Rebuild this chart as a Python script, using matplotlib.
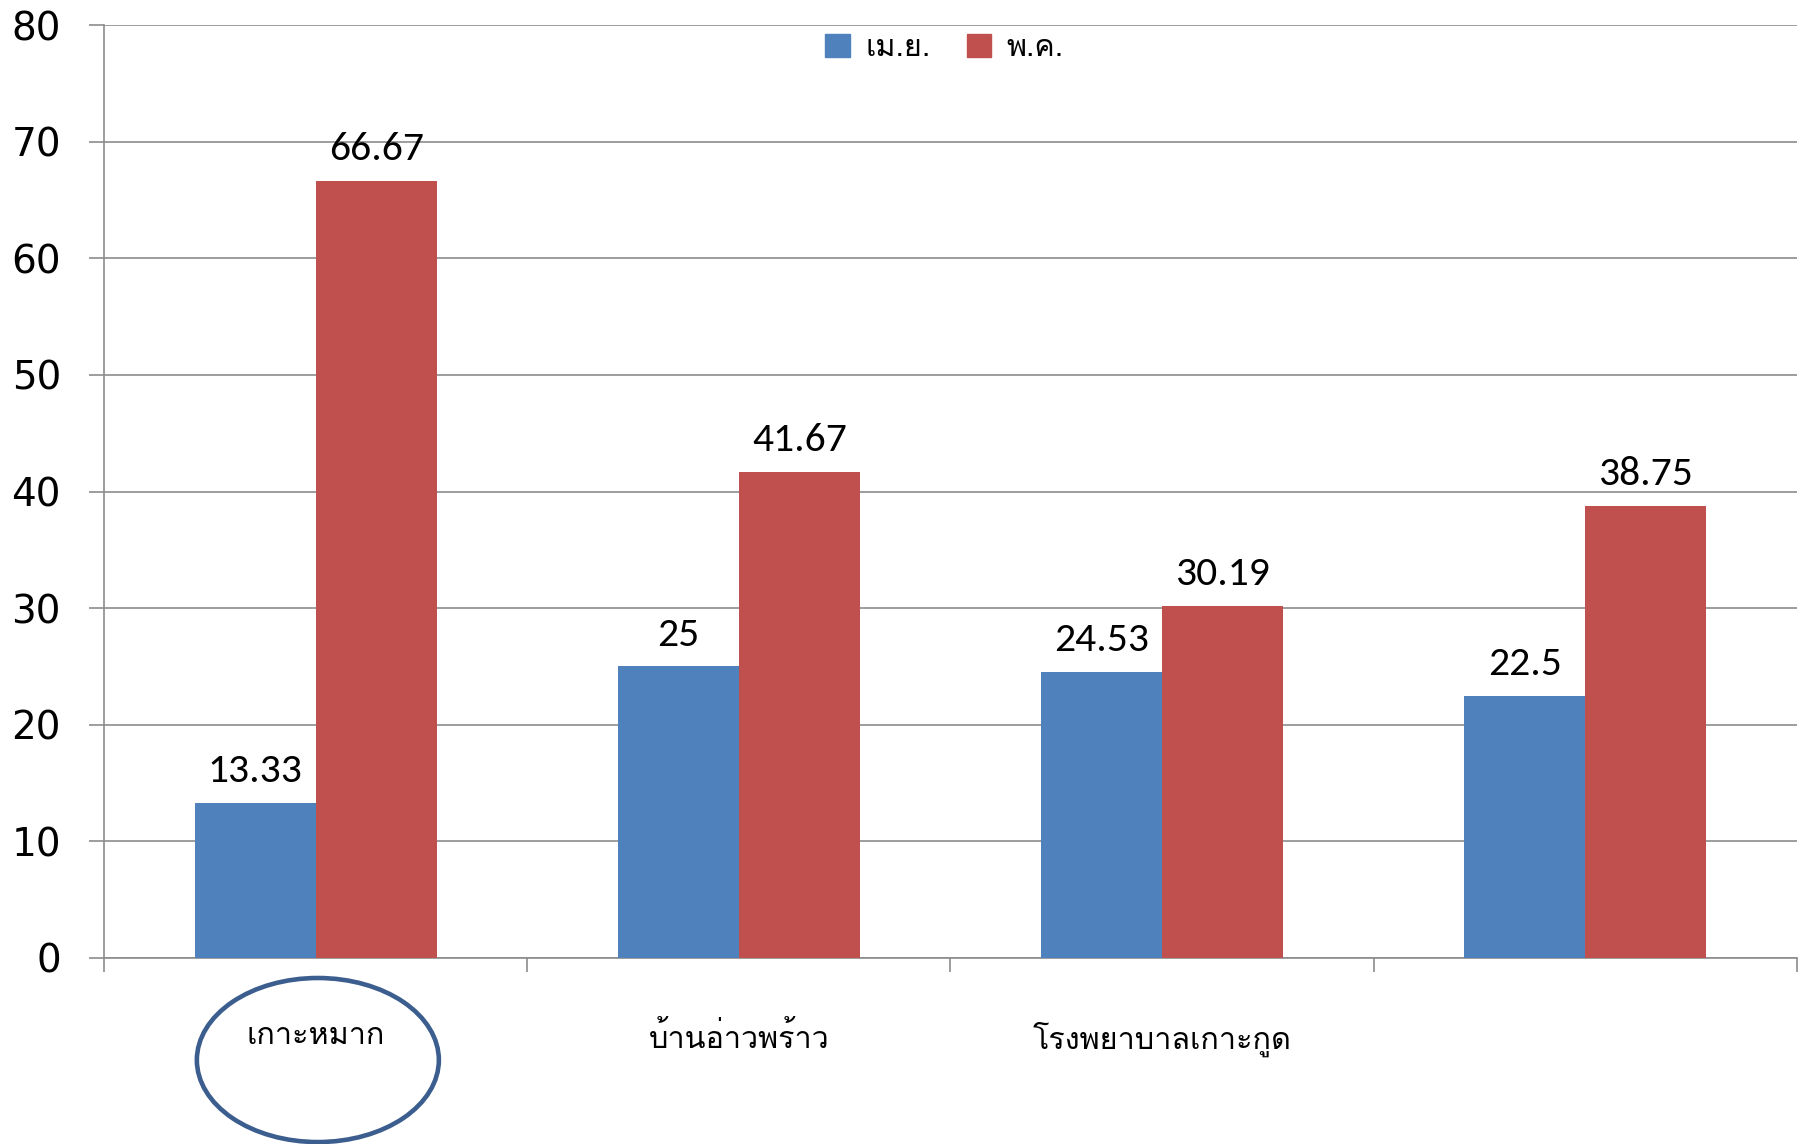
import matplotlib
matplotlib.use("Agg")
import matplotlib.pyplot as plt
from matplotlib.patches import Ellipse, Patch
import numpy as np

categories = ["เกาะหมาก", "บ้านอ่าวพร้าว", "โรงพยาบาลเกาะกูด", ""]
series_names = ["เม.ย.", "พ.ค."]
apr_values = [13.33, 25, 24.53, 22.5]
may_values = [66.67, 41.67, 30.19, 38.75]
apr_labels = ["13.33", "25", "24.53", "22.5"]
may_labels = ["66.67", "41.67", "30.19", "38.75"]
y_ticks = [0, 10, 20, 30, 40, 50, 60, 70, 80]

BLUE = "#4F81BD"
RED = "#C0504D"
GRID = "#8C8C8C"
THAI = ["Loma", "DejaVu Sans"]
NUM = ["Carlito", "DejaVu Sans"]

fig = plt.figure(figsize=(18.06, 11.44), dpi=100)
ax = fig.add_axes([0.0576, 0.1626, 0.9374, 0.8154])

x = np.arange(len(categories))
w = 0.286
b1 = ax.bar(x - w / 2, apr_values, w, color=BLUE, zorder=3)
b2 = ax.bar(x + w / 2, may_values, w, color=RED, zorder=3)

for bars, labels in ((b1, apr_labels), (b2, may_labels)):
    for rect, lab in zip(bars, labels):
        ax.annotate(lab, (rect.get_x() + rect.get_width() / 2, rect.get_height()),
                    xytext=(0, 10), textcoords="offset points", ha="center", va="bottom",
                    fontsize=30, family=NUM)

ax.set_xlim(-0.5, len(categories) - 0.5)
ax.set_ylim(0, 80)
ax.set_yticks(y_ticks)
ax.set_yticklabels([str(t) for t in y_ticks], fontsize=28, family="DejaVu Sans")
ax.tick_params(axis="y", direction="out", length=11, width=1.2, color=GRID, pad=20)

ax.set_xticks(np.arange(-0.5, len(categories)), minor=True)
ax.set_xticks(x)
ax.set_xticklabels(categories, fontsize=22, family=THAI)
ax.tick_params(axis="x", which="major", length=0, pad=46)
ax.tick_params(axis="x", which="minor", direction="out", length=10, width=1.2, color=GRID)

ax.grid(axis="y", color=GRID, linewidth=1.2, zorder=0)
for s in ("top", "right"):
    ax.spines[s].set_visible(False)
for s in ("left", "bottom"):
    ax.spines[s].set_color(GRID)
    ax.spines[s].set_linewidth(1.2)

handles = [Patch(color=BLUE), Patch(color=RED)]
fig.legend(handles, series_names, loc="center", bbox_to_anchor=(0.523, 0.958), ncol=2,
           frameon=False, prop={"family": THAI, "size": 22}, handlelength=0.8,
           handleheight=0.8, handletextpad=0.5, columnspacing=1.2)

# circle drawn round the first category label
fig.add_artist(Ellipse((0.176, 0.0734), 0.134, 0.1434, transform=fig.transFigure,
                       fill=False, edgecolor="#3B5E8F", linewidth=3.3, clip_on=False))

fig.savefig("out.png")
